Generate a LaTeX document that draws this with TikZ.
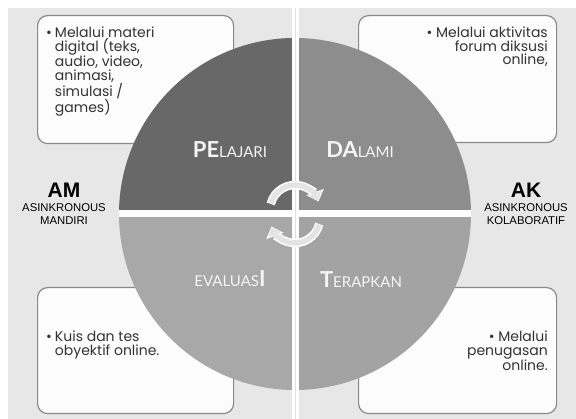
\documentclass[tikz,border=0pt]{standalone}
\usepackage{fontspec}
\setmainfont{Poppins}
\newfontfamily\latof{Lato}
\newfontfamily\arialf{Liberation Sans}
\usetikzlibrary{arrows.meta}
\definecolor{bg}{HTML}{E7E7E7}
\definecolor{qtl}{HTML}{686868}
\definecolor{qtr}{HTML}{8D8D8D}
\definecolor{qbl}{HTML}{A8A8A8}
\definecolor{qbr}{HTML}{A3A3A3}
\definecolor{boxline}{HTML}{8A8A8A}
\definecolor{boxfill}{HTML}{FCFCFC}
\definecolor{txt}{HTML}{333333}
\definecolor{arrc}{HTML}{E4E4E4}
\tikzset{
  infobox/.style={draw=boxline, fill=boxfill, line width=1.2pt, rounded corners=10pt, inner sep=0pt, anchor=north west},
  boxtext/.style={font=\fontsize{14}{13.5}\selectfont, inner sep=0pt, text=txt},
  qlabel/.style={font=\latof\fontsize{15}{15}\selectfont, inner sep=0pt, text=white!96!black, anchor=base},
  bigcap/.style={font=\arialf\bfseries\fontsize{21}{21}\selectfont, inner sep=0pt, anchor=base},
  subcap/.style={font=\arialf\fontsize{11.3}{13}\selectfont, inner sep=0pt, align=center, anchor=north},
  divider/.style={white, line width=7pt},
  cycout/.style={draw=white, line width=8.5pt, -{Triangle[length=10pt,width=18pt]}},
  cyc/.style={draw=arrc, line width=5.5pt, -{Triangle[length=8pt,width=14pt]}}
}
\newcommand{\biglet}[1]{{\fontsize{22}{22}\selectfont\bfseries #1}}
\newcommand{\bulind}{\phantom{•}\hspace{3pt}}
\begin{document}
\begin{tikzpicture}[x=1pt,y=1pt]
\useasboundingbox (0,0) rectangle (576,419);
\fill[white] (0,0) rectangle (576,419);
\fill[bg] (8,0) rectangle (576,411);

% info boxes
\node[infobox, minimum width=196pt, minimum height=128pt] (tlbox) at (37,404) {};
\node[infobox, minimum width=198pt, minimum height=127pt] (trbox) at (358,404) {};
\node[infobox, minimum width=196pt, minimum height=126pt] (blbox) at (37,132) {};
\node[infobox, minimum width=198pt, minimum height=126pt] (brbox) at (358,132) {};

% circle quadrants
\coordinate (c) at (295,205);
\fill[qtl] (c) -- ++(180:176) arc (180:90:176) -- cycle;
\fill[qtr] (c) -- ++(90:176) arc (90:0:176) -- cycle;
\fill[qbl] (c) -- ++(180:176) arc (180:270:176) -- cycle;
\fill[qbr] (c) -- ++(270:176) arc (270:360:176) -- cycle;

% dividers
\coordinate (hl) at (119,205);
\coordinate (hr) at (471,205);
\coordinate (vt) at (295,411);
\coordinate (vb) at (295,0);
\draw[divider] (hl) -- (hr);
\draw[divider] (vt) -- (vb);
\draw[color=black!12, line width=0.8pt] (vt) -- (vb);

% cycle arrows
\coordinate (cu) at (295,209);
\coordinate (cl) at (295,201);
\draw[cycout] ([shift={(166:25)}]cu) arc (166:20:25);
\draw[cyc] ([shift={(165:25)}]cu) arc (165:22:25);
\draw[cycout] ([shift={(-14:25)}]cl) arc (-14:-160:25);
\draw[cyc] ([shift={(-15:25)}]cl) arc (-15:-158:25);

% quadrant labels
\node[qlabel] (pel) at (230,261) {\biglet{PE}LAJARI};
\node[qlabel] (dal) at (360,261) {\biglet{DA}LAMI};
\node[qlabel] (eva) at (230,132) {EVALUAS\biglet{I}};
\node[qlabel] (ter) at (361,131) {\biglet{T}ERAPKAN};

% side captions
\node[bigcap] (am) at (64,221) {AM};
\node[subcap] (amsub) at (64,216) {ASINKRONOUS\\MANDIRI};
\node[bigcap] (ak) at (526,221) {AK};
\node[subcap] (aksub) at (526,216) {ASINKRONOUS\\KOLABORATIF};

% box texts
\node[boxtext, align=left, anchor=north west] (tltext) at (46,392) {•\hspace{3pt}Melalui materi\\\bulind digital (teks,\\\bulind audio, video,\\\bulind animasi,\\\bulind simulasi /\\\bulind games)};
\node[boxtext, align=right, anchor=north east] (trtext) at (548,392) {• Melalui aktivitas\\forum diksusi\\online,};
\node[boxtext, align=left, anchor=north west] (bltext) at (46,88) {•\hspace{3pt}Kuis dan tes\\\bulind obyektif online.};
\node[boxtext, align=right, anchor=north east] (brtext) at (548,88) {• Melalui\\penugasan\\online.};
\end{tikzpicture}
\end{document}
